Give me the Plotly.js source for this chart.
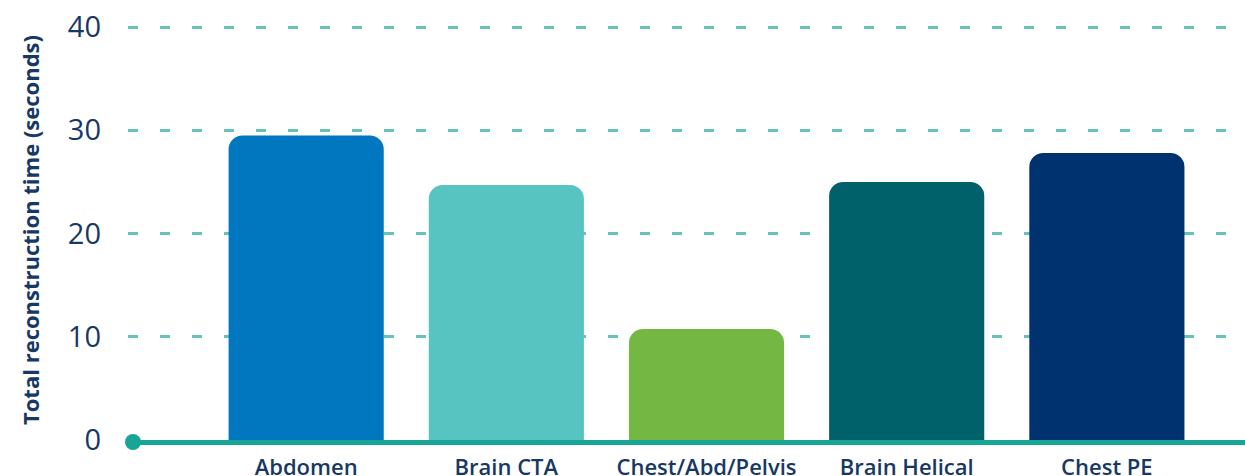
<!DOCTYPE html>
<html>
<head>
<meta charset="utf-8">
<script src="https://cdn.plot.ly/plotly-3.0.1.min.js"></script>
<style>
  html, body { margin: 0; padding: 0; background: #fff; }
  #chart { width: 1245px; height: 476px; }
</style>
</head>
<body>
<div id="chart"></div>
<script>
var protocols = ['Abdomen', 'Brain CTA', 'Chest/Abd/Pelvis', 'Brain Helical', 'Chest PE'];
var reconTimes = [29.5, 24.7, 10.75, 25.0, 27.8];
var barColors = ['#0077bf', '#57c4c2', '#74b843', '#00616b', '#003270'];
var yTicks = [0, 10, 20, 30, 40];

var navy = '#173865';
var teal = '#17a596';

var trace = {
  x: protocols,
  y: reconTimes,
  type: 'bar',
  marker: {
    color: barColors,
    cornerradius: 14,
    line: { width: 0 }
  },
  hoverinfo: 'x+y'
};

var layout = {
  width: 1245,
  height: 476,
  margin: { l: 128, r: 0, t: 20, b: 36 },
  paper_bgcolor: '#fff',
  plot_bgcolor: '#fff',
  bargap: 0.225,
  showlegend: false,
  font: { family: 'Open Sans, sans-serif', color: navy },
  xaxis: {
    range: [-0.89, 4.69],
    showgrid: false,
    zeroline: false,
    showline: true,
    linecolor: teal,
    linewidth: 5,
    ticks: '',
    ticklabelstandoff: 4,
    tickfont: { size: 22, color: navy, family: 'Open Sans, sans-serif', weight: 600 }
  },
  yaxis: {
    range: [0, 40.68],
    tickvals: yTicks,
    showgrid: true,
    gridcolor: '#66c2bb',
    gridwidth: 3,
    griddash: '10px,22px',
    zeroline: false,
    showline: false,
    ticks: '',
    ticklabelstandoff: 26,
    tickfont: { size: 29, color: navy, family: 'Open Sans, sans-serif', weight: 400 },
    title: {
      text: 'Total reconstruction time (seconds)',
      font: { size: 22, color: navy, family: 'Open Sans, sans-serif', weight: 700 },
      standoff: 22
    }
  },
  shapes: [{
    type: 'circle',
    xref: 'paper',
    yref: 'paper',
    xsizemode: 'pixel',
    ysizemode: 'pixel',
    xanchor: 0.0045,
    yanchor: 0,
    x0: -8, x1: 8,
    y0: -10, y1: 6,
    fillcolor: teal,
    line: { width: 0 },
    layer: 'above'
  }]
};

Plotly.newPlot('chart', [trace], layout, { displayModeBar: false, staticPlot: true });
</script>
</body>
</html>
